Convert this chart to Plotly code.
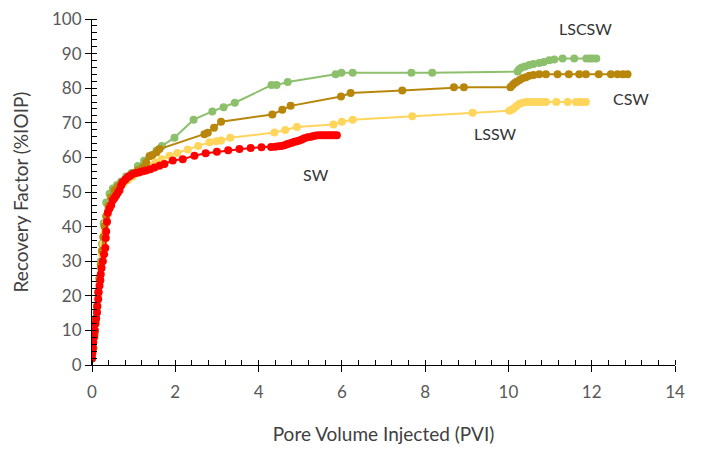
import plotly.graph_objects as go

# ---- data ----
sw_x = [0.0, 0.01, 0.02, 0.03, 0.05, 0.07, 0.08, 0.1, 0.12, 0.13, 0.15, 0.16, 0.18, 0.2, 0.21, 0.23, 0.26, 0.29, 0.32, 0.33,
        0.34, 0.36, 0.38, 0.42, 0.46, 0.5, 0.54, 0.58, 0.62, 0.66, 0.7, 0.74, 0.8, 0.86, 0.92, 0.98, 1.06, 1.14, 1.22, 1.3,
        1.4, 1.5, 1.62, 1.74, 1.94, 2.18, 2.46, 2.73, 3.0, 3.27, 3.54, 3.81, 4.07, 4.3, 4.4, 4.48, 4.55, 4.62, 4.68, 4.74,
        4.8, 4.86, 4.92, 4.98, 5.04, 5.1, 5.18, 5.26, 5.32, 5.38, 5.45, 5.52, 5.58, 5.64, 5.7, 5.76, 5.82, 5.88]
sw_y = [1.9, 3.5, 4.8, 6.5, 8.1, 10, 11.9, 13.5, 15.2, 17, 19, 21, 22.9, 24.5, 26.2, 28, 30, 32, 33.8, 36.7,
        38.6, 41.4, 44, 45.2, 46.2, 47.6, 48.3, 49, 49.8, 50.5, 51.9, 52.9, 53.6, 54.3, 54.8, 55.2, 55.5, 55.7, 56, 56.2,
        56.6, 57.1, 57.6, 58.1, 59.1, 59.5, 60.5, 61.2, 61.6, 62.1, 62.4, 62.7, 62.9, 63, 63.1, 63.2, 63.3, 63.5, 63.8, 64,
        64.2, 64.5, 64.7, 64.9, 65.2, 65.5, 65.8, 66, 66.2, 66.3, 66.4, 66.4, 66.4, 66.4, 66.4, 66.4, 66.4, 66.4]

lssw_x = [0.0, 0.03, 0.06, 0.09, 0.12, 0.15, 0.18, 0.21, 0.24, 0.27, 0.3, 0.34, 0.38, 0.44, 0.5, 0.58, 0.66, 0.76, 0.86, 0.98,
          1.1, 1.24, 1.38, 1.52, 1.67, 1.86, 2.05, 2.3, 2.55, 2.82, 2.98, 3.1, 3.32, 4.38, 4.64, 4.92, 5.8, 6.0, 6.26, 7.69,
          9.14, 10.02, 10.08, 10.14, 10.2, 10.27, 10.34, 10.42, 10.5, 10.6, 10.7, 10.8, 10.9, 11.15, 11.42, 11.62, 11.7, 11.78, 11.86]
lssw_y = [2, 5, 8, 12, 16, 20, 24, 28, 32, 35, 38, 41, 43.5, 46, 48, 50, 51.3, 52.5, 53.5, 54.5,
          55.5, 56.5, 57.5, 58.5, 59.5, 60.5, 61.3, 62.3, 63.3, 64.4, 64.7, 64.9, 65.7, 67.2, 67.9, 68.8, 69.5, 70.3, 70.9, 71.9,
          72.9, 73.5, 73.8, 74.3, 74.9, 75.5, 75.8, 76, 76, 76, 76, 76, 76, 76, 76, 76, 76, 76, 76]

csw_x = [0.0, 0.03, 0.06, 0.09, 0.12, 0.15, 0.18, 0.21, 0.24, 0.27, 0.3, 0.34, 0.4, 0.46, 0.54, 0.62, 0.7, 0.8, 0.9, 1.0,
         1.1, 1.22, 1.3, 1.38, 1.45, 1.55, 1.62, 2.7, 2.78, 2.93, 3.1, 4.33, 4.57, 4.77, 5.98, 6.21, 7.45, 8.69, 8.93, 10.05,
         10.1, 10.15, 10.2, 10.27, 10.34, 10.42, 10.5, 10.6, 10.74, 10.9, 11.18, 11.45, 11.7, 11.86, 12.17, 12.46, 12.62, 12.75, 12.86]
csw_y = [2, 5, 9, 13, 17, 21, 25, 29, 33, 37, 40, 43, 46, 48.5, 50.5, 51.5, 52.5, 53.5, 54.5, 55.5,
         56.3, 57.1, 58.5, 60.3, 60.7, 61.5, 62.4, 66.7, 67.1, 68.6, 70.3, 72.4, 73.8, 74.9, 77.6, 78.6, 79.3, 80.3, 80.3, 80.3,
         80.9, 81.5, 81.9, 82.4, 82.9, 83.2, 83.6, 83.8, 84, 84, 84, 84, 84, 84, 84, 84, 84, 84, 84]

lscsw_x = [0.0, 0.03, 0.06, 0.09, 0.12, 0.15, 0.18, 0.21, 0.24, 0.28, 0.34, 0.42, 0.5, 0.6, 0.7, 0.82, 0.95, 1.1, 1.25, 1.4,
           1.55, 1.68, 1.98, 2.44, 2.89, 3.16, 3.43, 4.31, 4.43, 4.70, 5.85, 5.99, 6.26, 7.67, 8.17, 10.22, 10.26, 10.32, 10.4, 10.5,
           10.6, 10.74, 10.85, 10.98, 11.1, 11.3, 11.58, 11.87, 11.95, 12.02, 12.11]
lscsw_y = [2, 5, 9, 13, 17, 21, 25, 30, 35, 41, 47, 49.5, 51, 52, 53, 54.5, 55.5, 57.5, 59, 60.5,
           62, 63.3, 65.7, 70.9, 73.3, 74.5, 75.8, 80.9, 80.9, 81.8, 84.0, 84.5, 84.5, 84.5, 84.5, 84.8, 85.5, 86, 86.3, 86.7,
           87, 87.3, 87.6, 88.1, 88.3, 88.6, 88.6, 88.6, 88.6, 88.6, 88.6]

series_names = ["LSCSW", "LSSW", "CSW", "SW"]
series_colors = ["#8DC06C", "#FFD55C", "#B8860B", "#FF0000"]
label_x = [11.85, 9.69, 12.95, 5.37]
label_y = [97.2, 66.9, 77.1, 55.1]

assert len(sw_x) == len(sw_y)
assert len(lssw_x) == len(lssw_y)
assert len(csw_x) == len(csw_y)
assert len(lscsw_x) == len(lscsw_y)

data = [(lscsw_x, lscsw_y), (lssw_x, lssw_y), (csw_x, csw_y), (sw_x, sw_y)]

fig = go.Figure()
for (xs, ys), name, col in zip(data, series_names, series_colors):
    fig.add_trace(go.Scatter(
        x=xs, y=ys, mode="lines+markers", name=name,
        line=dict(color=col, width=2),
        marker=dict(color=col, size=8),
        showlegend=False,
    ))

FONT = "Lato, Open Sans, sans-serif"
for name, lx, ly in zip(series_names, label_x, label_y):
    fig.add_annotation(x=lx, y=ly, text=name, showarrow=False,
                       font=dict(family=FONT, size=16, color="#333333"))

tick_font = dict(family=FONT, size=17, color="#595959")
title_font = dict(family=FONT, size=19, color="#404040")

fig.update_layout(
    width=704, height=450,
    margin=dict(l=84, r=37, t=11, b=93),
    paper_bgcolor="white", plot_bgcolor="white",
    font=dict(family=FONT),
    xaxis=dict(
        range=[0, 14], dtick=2, tick0=0,
        showgrid=False, zeroline=False, automargin=False,
        showline=True, linecolor="black", linewidth=1,
        ticks="outside", ticklen=6, tickcolor="black",
        minor=dict(dtick=0.4, ticks="inside", ticklen=5, tickcolor="black", showgrid=False),
        ticklabelstandoff=6, ticklabeloverflow="allow",
        title=dict(text="Pore Volume Injected (PVI)", standoff=26, font=title_font),
        tickfont=tick_font,
    ),
    yaxis=dict(
        range=[0, 100], dtick=10, tick0=0,
        showgrid=False, zeroline=False, automargin=False,
        showline=True, linecolor="black", linewidth=1,
        ticks="outside", ticklen=6, tickcolor="black",
        minor=dict(dtick=2, ticks="inside", ticklen=5, tickcolor="black", showgrid=False),
        ticklabeloverflow="allow",
        title=dict(text="Recovery Factor (%IOIP)", standoff=18, font=title_font),
        tickfont=tick_font,
    ),
)

fig.write_html("out.html")
